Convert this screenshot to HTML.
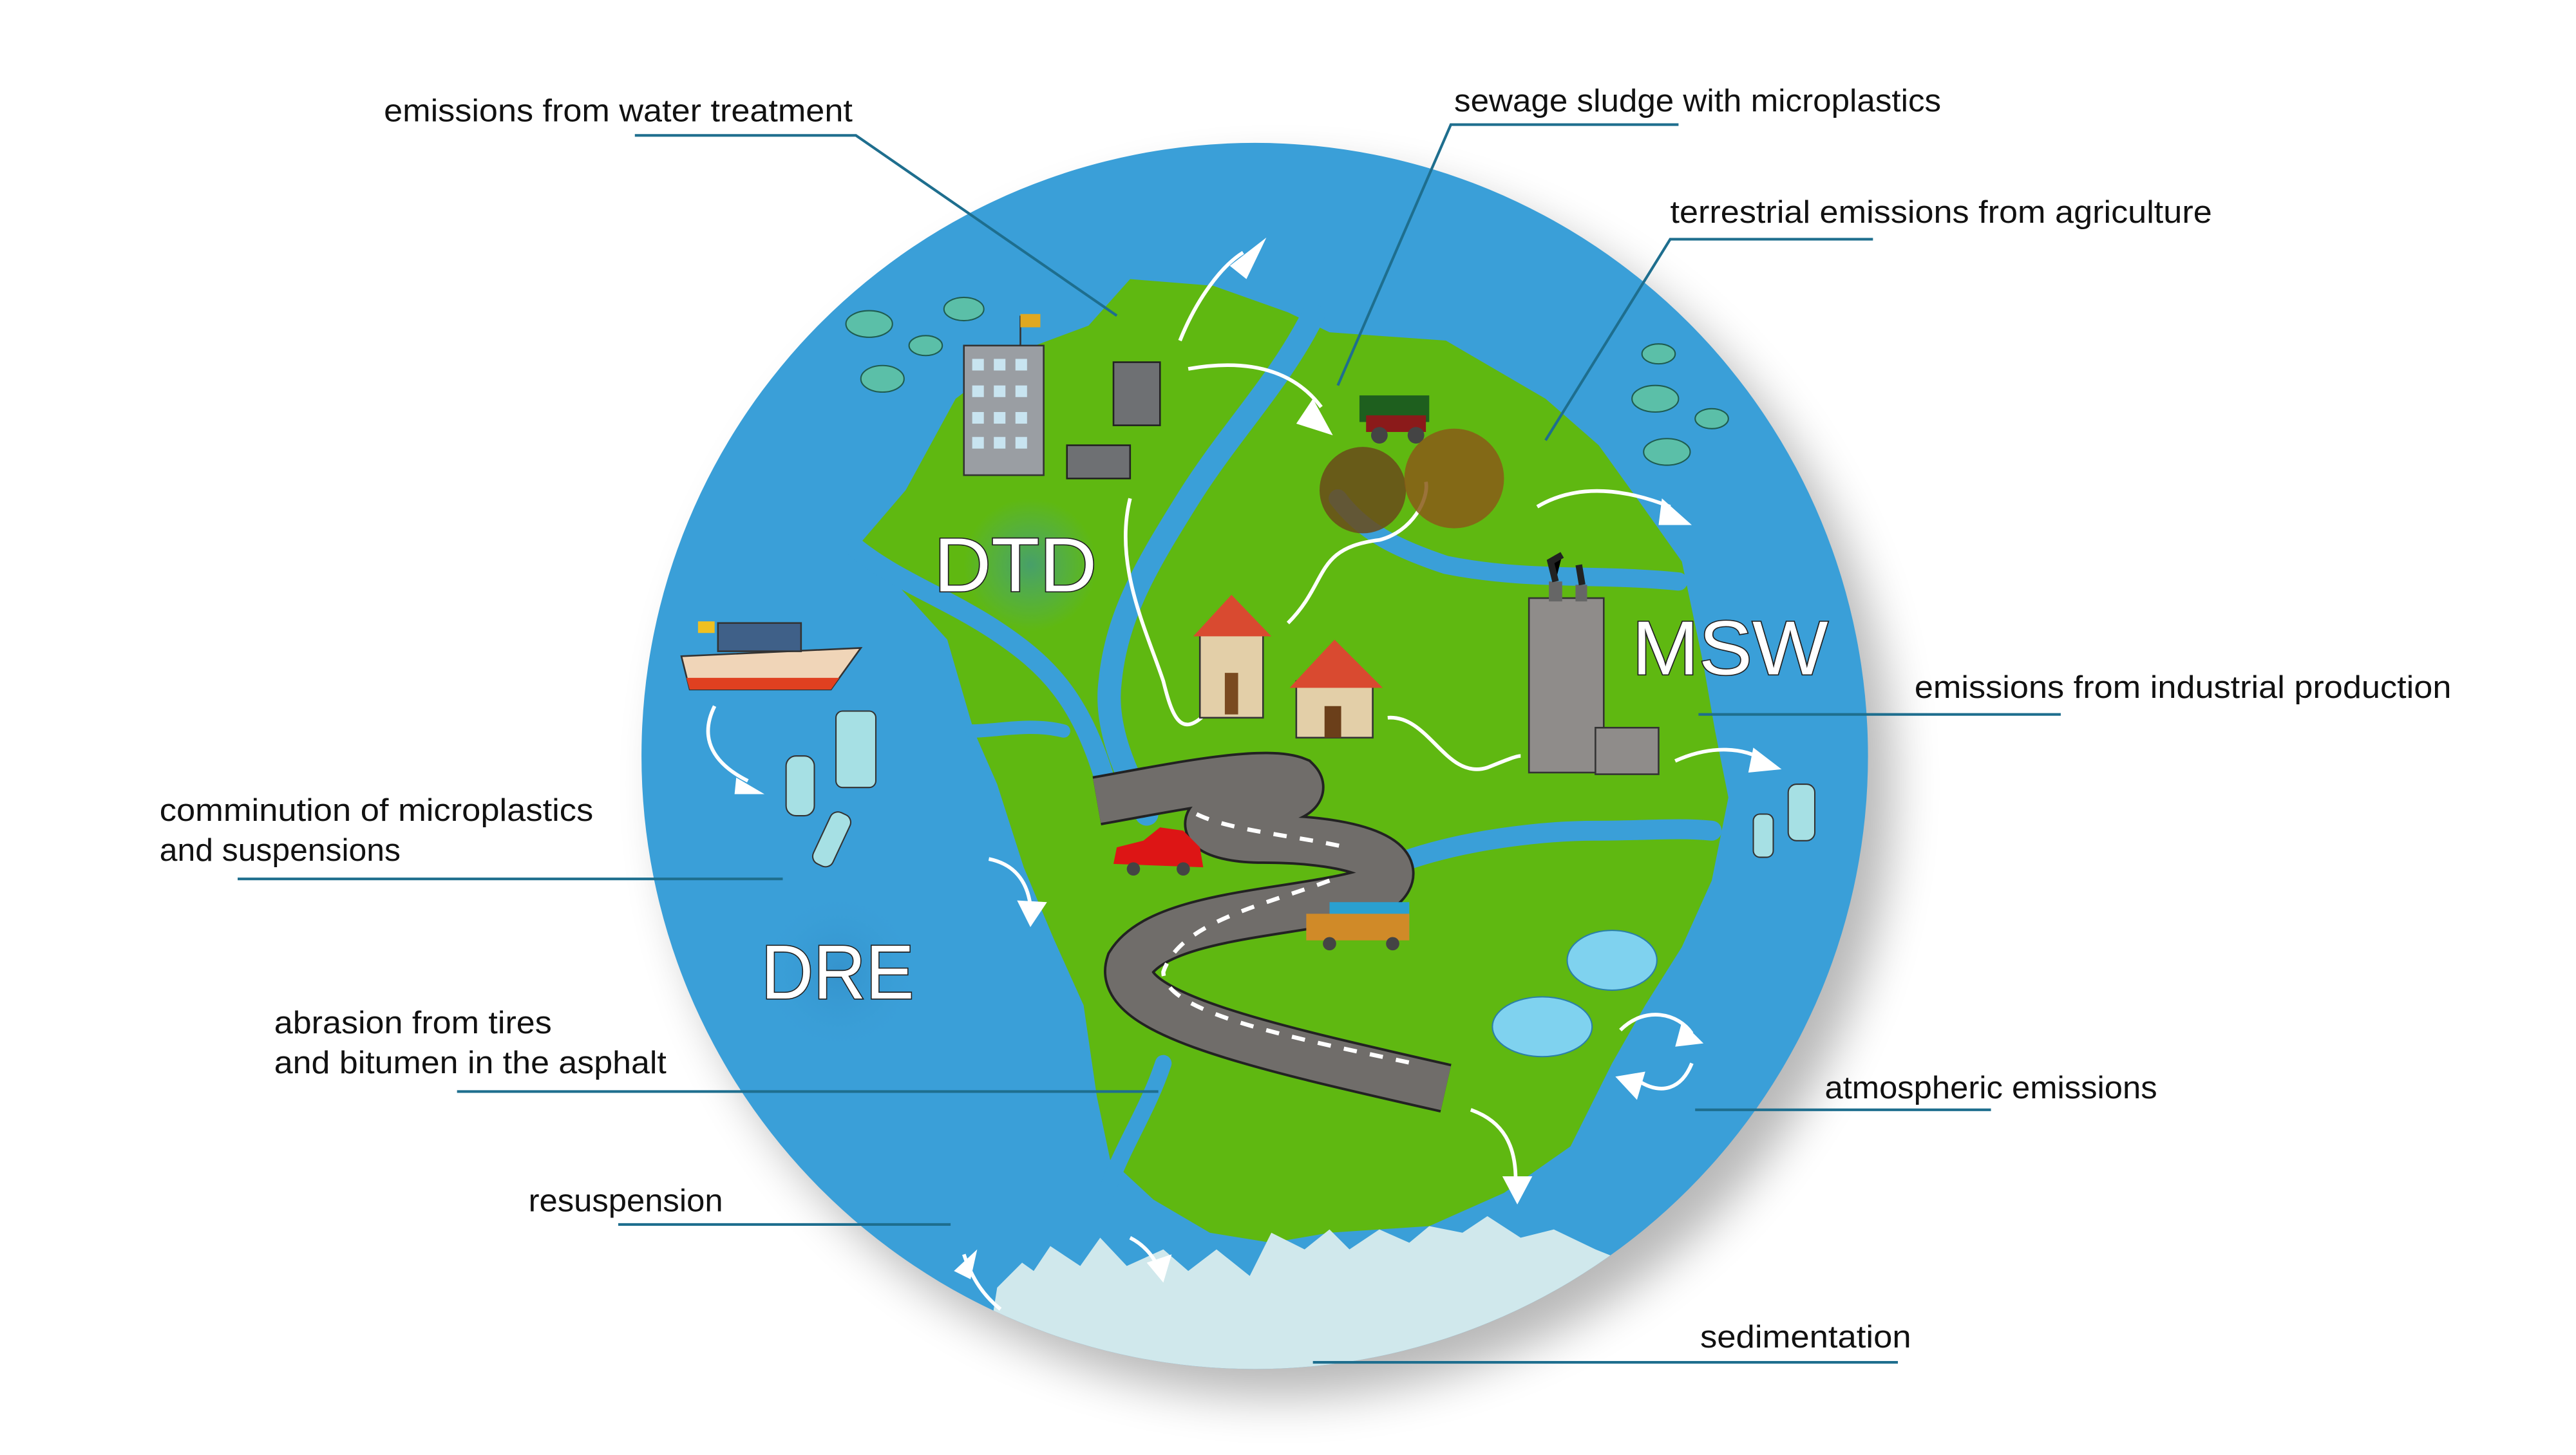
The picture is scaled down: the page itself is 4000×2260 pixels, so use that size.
<!DOCTYPE html>
<html><head><meta charset="utf-8"><style>
html,body{margin:0;padding:0;background:#fff;}
svg{display:block;}
text{font-family:"Liberation Sans",sans-serif;fill:#111;}
</style></head><body>
<svg width="4000" height="2260" viewBox="0 0 4000 2260" xmlns="http://www.w3.org/2000/svg">
<defs>
<filter id="sh" x="-20%" y="-20%" width="140%" height="140%"><feGaussianBlur stdDeviation="14"/></filter>
<clipPath id="cc"><circle cx="755" cy="455" r="369"/></clipPath>
<radialGradient id="glow"><stop offset="0" stop-color="#2f86c0" stop-opacity="0.5"/><stop offset="1" stop-color="#3a9fd8" stop-opacity="0"/></radialGradient>
</defs>
<g transform="scale(2.5806)">
<!-- shadow -->
<circle cx="770" cy="472" r="369" fill="#000" opacity="0.28" filter="url(#sh)"/>
<circle cx="755" cy="455" r="369" fill="#3a9fd8"/>
<g clip-path="url(#cc)">
<!-- land -->
<path fill="#5fb811" d="M545,295 L575,240 L612,212 L655,196 L680,168 L730,172 L775,188 L800,200 L870,205 L930,240 L962,268 L985,300 L1012,338 L1025,400 L1032,440 L1040,480 L1030,530 L1012,570 L990,605 L970,640 L945,690 L905,718 L860,738 L800,742 L765,748 L728,742 L694,722 L668,698 L660,660 L652,605 L634,565 L616,522 L600,472 L586,440 L570,385 L540,352 L515,330 Z"/>
<!-- rivers -->
<g fill="none" stroke="#3a9fd8" stroke-linecap="round">
<path d="M790,190 C770,230 740,260 715,300 C690,340 672,370 668,410 C664,440 680,470 690,490" stroke-width="14"/>
<path d="M515,330 C540,350 570,360 600,380 C630,400 650,420 665,470" stroke-width="12"/>
<path d="M805,300 C820,320 840,330 870,340 C920,350 960,345 1010,350" stroke-width="11"/>
<path d="M840,520 C880,505 930,500 960,500 C990,500 1010,498 1030,500" stroke-width="12"/>
<path d="M700,640 C690,670 675,690 665,720" stroke-width="10"/>
<path d="M585,440 C600,440 620,435 640,440" stroke-width="8"/>
</g>
<!-- sediment -->
<path fill="#d0e8ec" d="M600,775 L615,760 L622,765 L632,750 L650,762 L662,745 L678,762 L700,752 L715,765 L732,752 L752,768 L765,742 L785,752 L800,740 L812,752 L830,740 L848,748 L860,738 L880,742 L895,732 L915,745 L935,740 L960,752 L980,760 L1000,900 L580,900 Z"/>
</g>
<circle cx="620" cy="340" r="40" fill="url(#glow)"/>
<circle cx="505" cy="585" r="50" fill="url(#glow)"/>
<!-- road -->
<g fill="none" stroke-linecap="butt">
<path d="M660,482 C700,475 760,462 780,470 C790,480 760,485 740,488 C715,495 730,505 760,505 C820,505 850,520 830,535 C790,550 700,548 680,580 C670,610 760,630 870,655" stroke="#222" stroke-width="30"/>
<path d="M660,482 C700,475 760,462 780,470 C790,480 760,485 740,488 C715,495 730,505 760,505 C820,505 850,520 830,535 C790,550 700,548 680,580 C670,610 760,630 870,655" stroke="#706d6a" stroke-width="27"/>
<path d="M720,490 C740,500 780,503 810,510 M800,530 C760,545 710,555 700,585 C700,610 780,625 850,640" stroke="#fff" stroke-width="2.5" stroke-dasharray="8 8"/>
</g>
<!-- arrows white -->
<g fill="none" stroke="#fff" stroke-width="2.2">
<path d="M710,205 C720,180 735,160 748,152"/>
<path d="M715,222 C755,215 780,225 795,245"/>
<path d="M925,305 C950,290 980,295 1005,305"/>
<path d="M1008,458 C1030,448 1050,450 1062,458"/>
<path d="M430,425 C420,445 430,460 450,470"/>
<path d="M595,517 C610,520 618,530 620,545"/>
<path d="M885,668 C905,675 912,690 912,710"/>
<path d="M975,620 C990,605 1010,610 1018,622"/>
<path d="M1018,640 C1012,655 1000,660 985,650"/>
<path d="M580,755 C585,770 592,780 602,788"/>
<path d="M680,745 C690,750 695,758 698,765"/>
<path d="M680,300 C670,340 690,380 700,410 C705,430 710,445 725,430"/>
<path d="M775,375 C800,350 790,330 830,325 C850,320 860,300 858,290"/>
<path d="M835,432 C860,430 870,470 895,462 C905,458 912,455 915,455"/>
</g>
<g fill="#fff">
<polygon points="740,160 762,143 750,168"/>
<polygon points="790,240 802,262 780,255"/>
<polygon points="1000,300 1018,316 998,316"/>
<polygon points="1055,450 1072,463 1052,465"/>
<polygon points="443,468 460,478 442,478"/>
<polygon points="612,542 630,543 620,558"/>
<polygon points="904,708 922,708 913,725"/>
<polygon points="1012,615 1025,628 1008,630"/>
<polygon points="990,645 985,662 972,648"/>
<polygon points="574,765 588,752 584,770"/>
<polygon points="690,760 705,755 700,772"/>
</g>
<!-- buildings -->
<rect x="580" y="208" width="48" height="78" fill="#9a9ea3" stroke="#333" stroke-width="1"/>
<g fill="#c8e4f0"><rect x="585" y="216" width="7" height="7"/><rect x="598" y="216" width="7" height="7"/><rect x="611" y="216" width="7" height="7"/><rect x="585" y="232" width="7" height="7"/><rect x="598" y="232" width="7" height="7"/><rect x="611" y="232" width="7" height="7"/><rect x="585" y="248" width="7" height="7"/><rect x="598" y="248" width="7" height="7"/><rect x="611" y="248" width="7" height="7"/><rect x="585" y="263" width="7" height="7"/><rect x="598" y="263" width="7" height="7"/><rect x="611" y="263" width="7" height="7"/></g>
<line x1="614" y1="208" x2="614" y2="190" stroke="#333"/><rect x="614" y="189" width="12" height="8" fill="#e0a820"/>
<rect x="670" y="218" width="28" height="38" fill="#6e7073" stroke="#222"/>
<rect x="642" y="268" width="38" height="20" fill="#6e7073" stroke="#222"/>
<!-- harvester & bushes -->
<rect x="818" y="238" width="42" height="16" fill="#1e5f1e"/><rect x="822" y="250" width="36" height="10" fill="#8b1a1a"/>
<circle cx="830" cy="262" r="5" fill="#444"/><circle cx="852" cy="262" r="5" fill="#444"/>
<circle cx="820" cy="295" r="26" fill="#6a4a1a" opacity="0.85"/><circle cx="875" cy="288" r="30" fill="#8a5a18" opacity="0.85"/>
<!-- houses -->
<rect x="722" y="380" width="38" height="52" fill="#e3cfa8" stroke="#333"/><polygon points="718,383 741,358 765,383" fill="#d94a30"/>
<rect x="737" y="405" width="8" height="25" fill="#7a4a20"/>
<rect x="780" y="410" width="46" height="34" fill="#e3cfa8" stroke="#333"/><polygon points="776,414 803,385 832,414" fill="#d94a30"/>
<rect x="797" y="425" width="10" height="19" fill="#6b3f1a"/>
<!-- factory -->
<rect x="920" y="360" width="45" height="105" fill="#8f8c8a" stroke="#333"/>
<rect x="960" y="438" width="38" height="28" fill="#8f8c8a" stroke="#333"/>
<rect x="932" y="350" width="8" height="12" fill="#666"/><rect x="948" y="352" width="7" height="10" fill="#666"/>
<path d="M936,350 L933,338 L940,334 M952,352 L950,340" stroke="#222" stroke-width="4"/>
<!-- vehicles -->
<path d="M670,520 L672,510 L688,506 L698,498 L712,500 L722,510 L724,522 Z" fill="#dd1515"/>
<circle cx="682" cy="523" r="4" fill="#444"/><circle cx="712" cy="523" r="4" fill="#444"/>
<rect x="800" y="543" width="48" height="20" fill="#2aa0d0"/><rect x="786" y="550" width="62" height="16" fill="#d08a28"/>
<circle cx="800" cy="568" r="4" fill="#444"/><circle cx="838" cy="568" r="4" fill="#444"/>
<!-- ship -->
<path d="M410,395 L518,390 L500,415 L415,415 Z" fill="#f0d5b8" stroke="#333"/><path d="M413,408 L505,408 L500,415 L415,415Z" fill="#e04020"/>
<rect x="432" y="375" width="50" height="17" fill="#3f6088" stroke="#333"/><rect x="420" y="374" width="10" height="7" fill="#f0c020"/>
<!-- bottles & clouds -->
<g fill="#a6e0e4" stroke="#333" stroke-width="0.8">
<rect x="503" y="428" width="24" height="46" rx="4"/><rect x="473" y="455" width="17" height="36" rx="6"/>
<rect x="494" y="488" width="13" height="34" rx="5" transform="rotate(25 500 505)"/>
<rect x="1076" y="472" width="16" height="34" rx="5"/><rect x="1055" y="490" width="12" height="26" rx="4"/>
</g>
<g fill="#7fd2ef" stroke="#2a7fa8" stroke-width="0.8">
<ellipse cx="970" cy="578" rx="27" ry="18"/><ellipse cx="928" cy="618" rx="30" ry="18"/>
</g>
<!-- fish -->
<g fill="#5bbfa8" stroke="#1f5c50" stroke-width="0.8">
<ellipse cx="523" cy="195" rx="14" ry="8"/><ellipse cx="580" cy="186" rx="12" ry="7"/><ellipse cx="557" cy="208" rx="10" ry="6"/><ellipse cx="531" cy="228" rx="13" ry="8"/>
<ellipse cx="998" cy="213" rx="10" ry="6"/><ellipse cx="996" cy="240" rx="14" ry="8"/><ellipse cx="1030" cy="252" rx="10" ry="6"/><ellipse cx="1003" cy="272" rx="14" ry="8"/>
</g>
<!-- region labels -->
<g font-family="Liberation Sans, sans-serif" fill="#fff" stroke="#222" stroke-width="1.3" font-size="46" paint-order="stroke">
<text x="562" y="356" style="fill:#fff" textLength="98" lengthAdjust="spacingAndGlyphs">DTD</text>
<text x="982" y="406" style="fill:#fff" textLength="118" lengthAdjust="spacingAndGlyphs">MSW</text>
<text x="458" y="601" style="fill:#fff" textLength="92" lengthAdjust="spacingAndGlyphs">DRE</text>
</g>
<!-- leader lines -->
<g fill="none" stroke="#1e6e8e" stroke-width="1.6">
<path d="M382,81.5 L515,81.5 L672,190"/>
<path d="M1010,75 L873,75 L805,232"/>
<path d="M1127,144 L1005,144 L930,265"/>
<path d="M1240,430 L1022,430"/>
<path d="M143,529 L471,529"/>
<path d="M275,657 L697,657"/>
<path d="M1198,668 L1020,668"/>
<path d="M372,737 L572,737"/>
<path d="M790,820 L1142,820"/>
</g>
<!-- labels -->
<g font-size="19">
<text x="231" y="73" textLength="282" lengthAdjust="spacingAndGlyphs">emissions from water treatment</text>
<text x="875" y="67" textLength="293" lengthAdjust="spacingAndGlyphs">sewage sludge with microplastics</text>
<text x="1005" y="134" textLength="326" lengthAdjust="spacingAndGlyphs">terrestrial emissions from agriculture</text>
<text x="1152" y="420" textLength="323" lengthAdjust="spacingAndGlyphs">emissions from industrial production</text>
<text x="96" y="494" textLength="261" lengthAdjust="spacingAndGlyphs">comminution of microplastics</text>
<text x="96" y="518" textLength="145" lengthAdjust="spacingAndGlyphs">and suspensions</text>
<text x="165" y="622" textLength="167" lengthAdjust="spacingAndGlyphs">abrasion from tires</text>
<text x="165" y="646" textLength="236" lengthAdjust="spacingAndGlyphs">and bitumen in the asphalt</text>
<text x="1098" y="661" textLength="200" lengthAdjust="spacingAndGlyphs">atmospheric emissions</text>
<text x="318" y="729" textLength="117" lengthAdjust="spacingAndGlyphs">resuspension</text>
<text x="1023" y="811" textLength="127" lengthAdjust="spacingAndGlyphs">sedimentation</text>
</g>
</g>
</svg>
</body></html>
